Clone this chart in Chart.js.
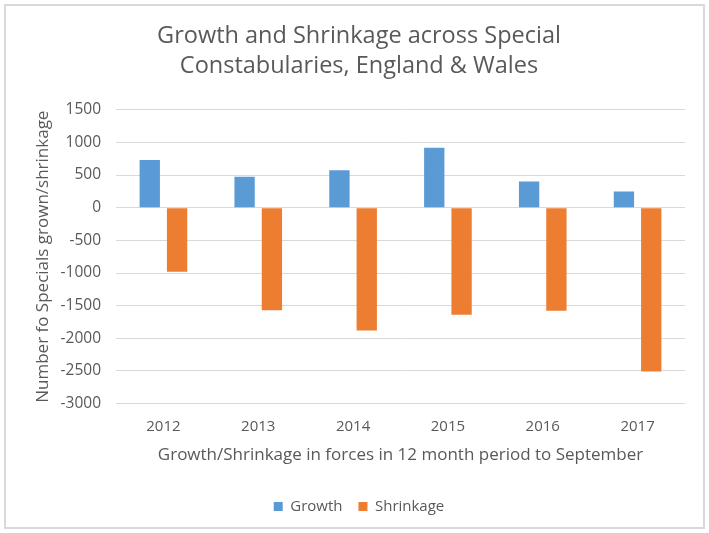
<!DOCTYPE html>
<html>
<head>
<meta charset="utf-8">
<script src="https://cdn.jsdelivr.net/npm/chart.js@4"></script>
<style>
  html, body { margin: 0; padding: 0; background: #fff; }
  #wrap { width: 709px; height: 533px; }
</style>
</head>
<body>
<div id="wrap"><canvas id="barChart" width="709" height="533"></canvas></div>
<script>
const years = ['2012', '2013', '2014', '2015', '2016', '2017'];
const growth = [730, 475, 572, 919, 403, 250];
const shrinkage = [-980, -1570, -1880, -1640, -1580, -2510];

const textColor = '#595959';
const fontFamily = '"Open Sans", "Noto Sans", sans-serif';

// light grey frame round the whole chart
const framePlugin = {
    id: 'frame',
    beforeDraw(chart) {
        const ctx = chart.ctx;
        ctx.save();
        ctx.fillStyle = '#fff';
        ctx.fillRect(0, 0, chart.width, chart.height);
        ctx.strokeStyle = '#d9d9d9';
        ctx.lineWidth = 2;
        ctx.strokeRect(5, 5, chart.width - 10, chart.height - 10);
        ctx.restore();
    }
};

new Chart(document.getElementById('barChart'), {
    type: 'bar',
    data: {
        labels: years,
        datasets: [
            {
                label: 'Growth',
                data: growth,
                backgroundColor: '#5b9bd5'
            },
            {
                label: 'Shrinkage',
                data: shrinkage,
                backgroundColor: '#ed7d31'
            }
        ]
    },
    options: {
        responsive: false,
        animation: false,
        layout: { padding: { left: 33, right: 24, top: 14, bottom: 9 } },
        datasets: {
            bar: { categoryPercentage: 0.576, barPercentage: 0.744 }
        },
        plugins: {
            title: {
                display: true,
                text: ['Growth and Shrinkage across Special', 'Constabularies, England & Wales'],
                color: textColor,
                font: { family: fontFamily, size: 23.5, weight: 'normal', lineHeight: 1.25 },
                padding: { top: 8, bottom: 29 }
            },
            legend: {
                position: 'bottom',
                labels: {
                    color: textColor,
                    font: { family: fontFamily, size: 15 },
                    boxWidth: 9,
                    boxHeight: 9,
                    padding: 16
                }
            },
            tooltip: { enabled: false }
        },
        scales: {
            x: {
                grid: { display: false, drawTicks: false },
                border: { display: false },
                ticks: { color: textColor, font: { family: fontFamily, size: 15 }, padding: 14 },
                title: {
                    display: true,
                    text: 'Growth/Shrinkage in forces in 12 month period to September',
                    color: textColor,
                    font: { family: fontFamily, size: 17 },
                    padding: { top: -5, bottom: 18 }
                }
            },
            y: {
                min: -3000,
                max: 1500,
                afterFit(scale) { scale.width = 83; },
                grid: { color: '#d9d9d9', drawTicks: false },
                border: { display: false },
                ticks: {
                    stepSize: 500,
                    color: textColor,
                    font: { family: fontFamily, size: 15.5 },
                    padding: 15,
                    callback: v => String(v)
                },
                title: {
                    display: true,
                    text: 'Number fo Specials grown/shrinkage',
                    color: textColor,
                    font: { family: fontFamily, size: 17 },
                    padding: { top: 0, bottom: 0 }
                }
            }
        }
    },
    plugins: [framePlugin]
});
</script>
</body>
</html>
